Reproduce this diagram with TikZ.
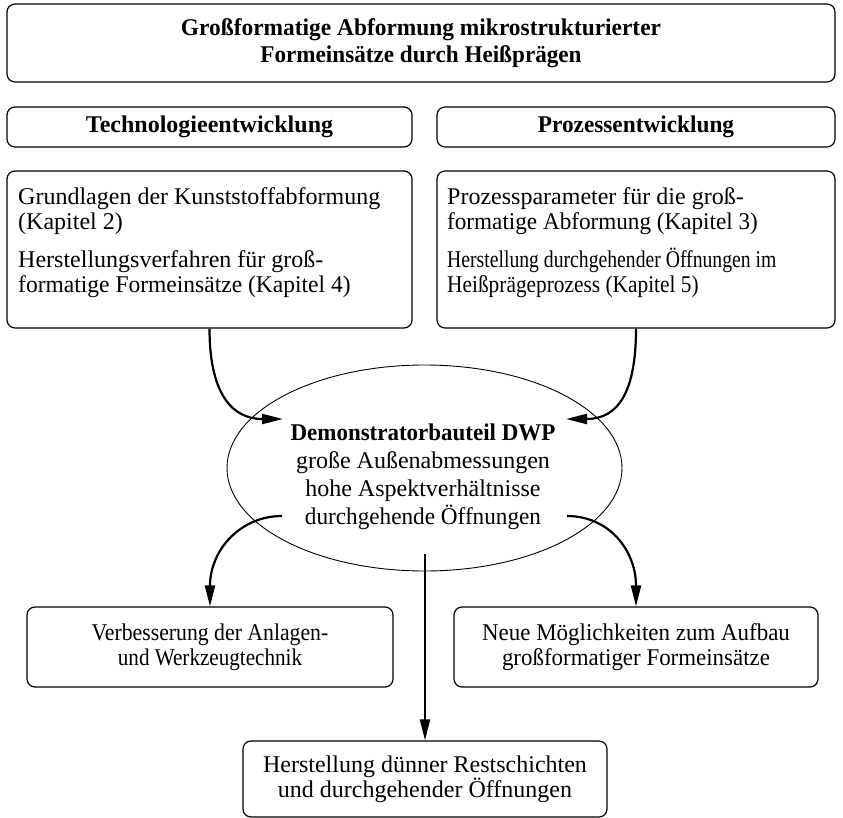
\documentclass[tikz,border=0pt]{standalone}
\usepackage{fontspec}
\setmainfont{Liberation Serif}
\usepackage{tikz}
\usetikzlibrary{arrows.meta, shapes.geometric, positioning, calc}
\newcommand{\narrow}[2]{\scalebox{#1}[1]{#2}}

\begin{document}
\begin{tikzpicture}[x=1pt, y=-1pt,
    font=\fontsize{24}{25}\selectfont,
    box/.style={draw, rounded corners=8pt, line width=1.2pt, inner sep=0pt},
    hd/.style={font=\bfseries\fontsize{24}{26.5}\selectfont, align=center},
    txt/.style={align=left, inner sep=0pt, anchor=north west},
    arr/.style={-{Triangle[length=21pt, width=10pt]}, line width=2.2pt}]
  \useasboundingbox (0,0) rectangle (843,818);

  \node[box, hd, minimum width=828, minimum height=78] (title) at (421,43)
    {\narrow{0.975}{Großformatige Abformung mikrostrukturierter}\\\narrow{0.965}{Formeinsätze durch Heißprägen}};
  \node[box, hd, minimum width=405, minimum height=40] (tech) at (209.5,127) {Technologieentwicklung};
  \node[box, hd, minimum width=398, minimum height=40] (proc) at (636,127) {\narrow{0.97}{Prozessentwicklung}};

  \node[box, minimum width=405, minimum height=157] (tl) at (209.5,249.5) {};
  \node[box, minimum width=398, minimum height=157] (tr) at (636,249.5) {};
  \node[txt] (tltext) at (18,187) {Grundlagen der Kunststoffabformung\\(Kapitel 2)\\[13pt]
    Herstellungsverfahren für groß-\\\narrow{0.98}{formatige Formeinsätze (Kapitel 4)}};
  \node[txt] (trtext) at (447,187) {Prozessparameter für die groß-\\\narrow{0.965}{formatige Abformung (Kapitel 3)}\\[13pt]
    \narrow{0.82}{Herstellung durchgehender Öffnungen im}\\\narrow{0.89}{Heißprägeprozess (Kapitel 5)}};

  \node[draw, ellipse, line width=0.9pt, minimum width=395, minimum height=206] (demo) at (424.5,468) {};
  \node[align=center, font=\fontsize{24}{28}\selectfont] (demotext) at (423,477)
    {\narrow{0.957}{\textbf{Demonstratorbauteil DWP}}\\große Außenabmessungen\\hohe Aspektverhältnisse\\\narrow{0.967}{durchgehende Öffnungen}};

  \node[box, align=center, minimum width=366, minimum height=80] (bl) at (210,647)
    {\narrow{0.906}{Verbesserung der Anlagen-}\\\narrow{0.88}{und Werkzeugtechnik}};
  \node[box, align=center, minimum width=364, minimum height=80] (br) at (636,647)
    {\narrow{0.956}{Neue Möglichkeiten zum Aufbau}\\\narrow{0.955}{großformatiger Formeinsätze}};
  \node[box, align=center, minimum width=364, minimum height=76] (bot) at (425,779)
    {Herstellung dünner Restschichten\\und durchgehender Öffnungen};

  \coordinate (inL) at (283,419);  \coordinate (inR) at (566,419);
  \coordinate (outL) at (282,516); \coordinate (outR) at (567,516);
  \coordinate (outM) at (425,554);

  \draw[arr] (tl.south) .. controls +(0,62) and +(-53,0) .. (inL);
  \draw[arr] (tr.south) .. controls +(0,62) and +(53,0) .. (inR);
  \draw[arr] (outL) .. controls +(-42,0) and +(0,-56) .. (bl.north);
  \draw[arr] (outR) .. controls +(42,0) and +(0,-56) .. (br.north);
  \draw[arr] (outM) -- (bot.north);
\end{tikzpicture}
\end{document}
